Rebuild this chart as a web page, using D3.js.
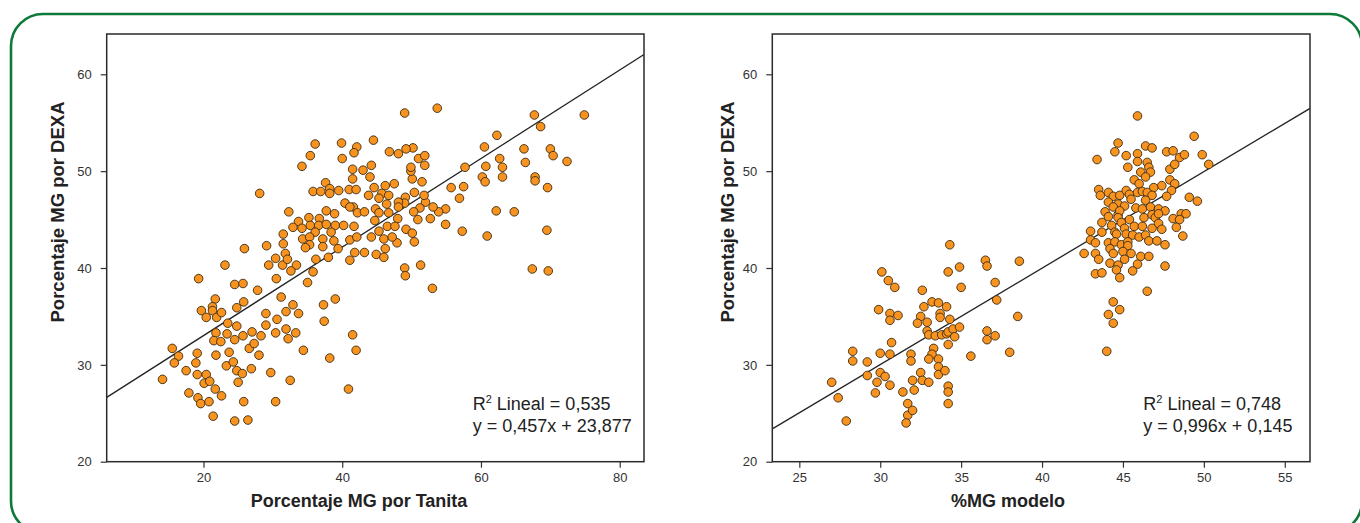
<!DOCTYPE html>
<html><head><meta charset="utf-8">
<script src="https://cdn.jsdelivr.net/npm/d3@7"></script>
<style>
html,body{margin:0;padding:0;background:#fff;}
svg{display:block;font-family:"Liberation Sans",Arial,sans-serif;}
</style></head>
<body>
<svg id="c" width="1360" height="523"></svg>
<script>
// ---------- DATA ----------
const tanita = [36.1,39.9,42.1,41.7,44.5,46.8,35.4,40.0,34.2,41.5,43.0,44.2,41.5,44.0,28.1,37.6,35.8,36.9,38.2,38.2,39.5,41.0,42.0,44.6,46.2,45.7,43.8,45.3,46.7,46.4,40.4,41.6,41.1,42.2,43.2,44.8,45.3,46.7,32.3,37.7,38.9,35.2,36.7,33.7,32.9,34.2,35.4,36.6,37.7,39.0,40.2,41.7,44.7,46.5,36.1,38.4,31.5,34.3,35.3,37.2,38.8,41.1,42.1,44.2,46.0,45.3,31.5,29.1,25.9,35.3,37.2,39.4,46.2,34.7,
23.1,19.3,29.4,30.4,31.4,31.8,32.1,33.4,32.6,30.5,24.5,25.7,27.8,35.0,35.8,36.2,38.0,41.1,41.8,43.2,44.9,46.0,21.7,19.7,21.3,21.3,20.4,21.9,22.6,24.8,25.8,31.2,32.9,31.9,33.7,29.0,30.6,23.5,24.8,29.0,21.8,23.4,24.5,25.7,27.0,28.3,30.4,31.9,33.3,32.2,37.3,39.0,37.4,41.5,42.0,38.2,40.9,34.4,15.5,16.4,15.8,14.1,17.5,19.1,18.9,19.1,20.4,20.1,20.9,21.5,22.5,21.8,23.7,23.3,24.3,24.8,25.6,25.0,26.6,27.3,28.0,26.9,29.7,32.5,21.7,22.6,17.9,19.2,19.6,20.8,25.8,30.4,21.4,24.5,26.4,
49.0,53.7,67.7,74.9,68.6,62.3,60.5,66.2,70.0,70.4,72.4,66.4,62.7,63.1,60.7,57.7,60.2,60.6,63.1,67.8,67.8,69.6,55.7,57.5,56.9,62.2,64.8,69.5,57.3,60.9,54.9,54.9,53.9,53.1,52.7,52.0,51.8,51.2,50.9,50.3,50.4,51.5,50.1,49.9,49.9,51.0,51.9,51.9,50.2,49.2,48.1,47.5,49.1,49.0,48.1,48.1,48.0,49.2,47.6,50.1,50.4,47.9,47.2,
49.0,49.1,51.3,53.0,67.4,69.7];
const dexaL = [52.8,52.9,52.5,51.9,53.2,52.0,51.6,51.3,50.5,50.2,50.1,50.6,49.2,49.4,47.7,48.8,47.9,47.9,48.2,47.7,48.0,48.1,48.1,48.3,48.5,47.7,47.5,47.2,47.5,46.6,46.7,46.3,46.3,45.7,45.8,46.1,45.7,45.7,45.8,45.9,45.6,45.2,45.1,44.8,44.2,44.1,44.4,44.4,44.5,44.4,44.4,44.3,44.9,44.3,43.7,43.7,43.5,43.0,43.2,43.0,42.8,42.9,43.2,43.2,43.0,43.8,42.5,42.3,42.0,42.4,42.2,42.0,42.0,42.1,
40.3,38.9,40.3,41.0,40.3,41.5,40.9,40.3,39.7,38.9,38.3,38.4,37.7,38.5,39.6,40.9,41.1,40.8,41.6,41.6,41.4,41.1,36.8,35.6,36.0,35.6,34.9,34.9,35.4,35.9,36.5,37.0,36.2,35.5,35.3,35.3,34.7,34.3,34.0,34.1,33.3,33.2,32.6,33.0,33.4,33.0,33.3,33.7,33.3,32.7,36.2,36.8,34.5,33.1,31.5,30.7,27.5,31.5,31.7,30.9,30.2,28.5,29.4,31.2,30.2,29.0,29.0,28.1,28.3,32.5,32.4,31.0,31.3,29.9,30.3,29.4,29.1,28.2,31.7,32.2,31.0,29.6,29.2,28.4,27.5,26.8,27.1,26.6,26.0,26.2,26.2,26.2,24.7,24.2,24.3,
56.0,56.5,55.8,55.8,54.6,53.7,52.5,52.3,52.3,51.6,51.0,50.9,51.3,50.4,50.5,50.4,49.4,48.9,49.4,49.4,49.0,48.3,48.3,48.4,47.2,45.9,45.8,43.9,43.8,43.3,44.5,46.1,45.8,46.3,45.1,46.8,47.5,46.2,45.0,45.8,47.8,48.9,49.2,50.0,50.4,51.3,51.6,50.6,52.4,52.3,51.8,48.7,47.3,46.7,46.8,46.3,45.1,44.0,44.3,43.6,42.7,42.6,43.2,
40.0,39.2,40.3,37.9,39.9,39.7];

const modelo = [34.3,30.1,30.5,30.9,34.2,34.9,35.0,36.5,36.6,38.6,37.1,37.2,32.6,33.2,33.6,32.7,34.1,29.9,30.6,31.1,30.6,32.5,33.7,33.7,34.3,32.3,32.9,38.5,32.9,33.0,33.4,33.8,34.1,34.2,34.5,34.9,34.6,34.2,36.6,36.6,37.1,35.6,38.0,30.7,28.3,28.3,30.0,30.6,29.2,31.9,31.9,33.3,33.2,33.0,33.6,33.6,33.6,34.0,32.5,32.6,33.0,29.2,30.0,30.3,29.8,30.6,32.0,32.1,31.4,29.7,27.0,27.4,27.9,31.7,31.7,32.0,31.6,34.2,34.2,34.2,
45.9,49.4,44.7,46.4,46.8,44.5,45.2,45.9,47.7,48.1,48.5,48.8,49.9,50.3,43.4,45.9,46.5,46.6,45.3,46.1,46.7,47.9,48.2,46.4,45.7,46.0,47.9,48.2,47.4,46.9,48.0,43.5,43.6,44.1,44.4,44.8,45.2,45.4,45.9,46.2,46.5,46.8,47.7,45.5,46.4,49.1,49.6,44.1,44.7,45.1,45.8,46.2,46.7,47.2,47.6,44.4,43.9,44.1,44.7,44.8,44.7,45.4,46.3,46.8,47.0,47.2,48.1,48.6,48.9,48.5,43.7,44.3,44.9,45.1,45.7,46.2,46.8,47.2,47.4,48.3,43.0,43.7,44.5,44.6,45.2,45.6,46.0,46.4,48.7,43.0,43.3,44.1,44.5,44.9,45.3,45.3,46.6,47.1,47.6,44.2,44.4,45.0,45.5,46.1,46.6,42.6,43.3,43.5,45.1,44.2,44.7,44.6,45.9,45.6,47.6,43.3,43.7,44.8,46.5,44.4,44.8,44.1,44.4,44.0];
const dexaR = [42.4,39.6,38.7,38.0,39.6,40.1,38.0,40.8,40.2,40.7,38.5,36.7,37.7,36.5,36.4,36.0,36.0,35.7,35.3,35.1,34.6,35.0,35.3,34.9,34.7,34.3,34.4,35.0,33.5,33.1,33.0,33.1,33.2,33.4,33.7,33.9,32.9,32.1,33.5,32.6,33.0,30.9,31.3,32.3,31.4,30.4,31.2,31.1,30.3,31.1,30.4,31.7,31.1,30.6,30.6,29.8,29.0,29.4,29.2,28.4,28.2,28.9,29.2,28.8,28.2,27.9,28.4,27.4,27.2,27.1,28.2,26.6,24.2,26.0,24.8,25.3,24.0,27.8,27.2,26.0,
55.7,53.6,52.9,52.6,52.4,52.0,51.6,51.8,52.0,52.1,51.4,51.7,51.7,50.7,51.2,51.0,50.9,50.4,50.4,49.9,49.9,50.2,50.7,49.4,49.1,48.7,49.1,48.7,48.5,48.3,48.0,48.1,47.5,47.8,47.4,47.5,48.0,47.6,47.8,47.9,47.8,47.5,47.4,47.1,47.0,47.3,46.9,46.8,46.6,46.4,46.2,46.1,46.3,46.1,45.9,46.3,45.8,45.3,45.5,45.9,45.2,45.0,45.2,45.5,45.2,45.6,45.1,45.6,45.6,45.0,44.7,44.4,44.7,44.1,44.3,44.3,44.1,44.6,44.0,44.2,43.8,43.7,43.7,43.5,43.5,43.4,43.2,43.4,43.3,42.9,42.6,42.6,42.7,42.4,42.7,42.3,42.8,42.8,42.4,42.0,41.5,41.7,41.5,41.2,41.2,41.5,41.5,40.9,40.9,40.5,40.3,39.8,40.4,39.7,40.2,39.4,39.5,39.0,37.6,36.5,35.7,35.2,34.3,31.4];

// regression coefficients [slope, intercept]
const fitLeft = [0.457, 23.877];
const fitRight = [0.996, 0.145];
const annLeft = ["R", "2", " Lineal = 0,535", "y = 0,457x + 23,877"];
const annRight = ["R", "2", " Lineal = 0,748", "y = 0,996x + 0,145"];

const yTicks = [20,30,40,50,60];
const xTicksLeft = [20,40,60,80];
const xTicksRight = [25,30,35,40,45,50,55];
const yTitle = "Porcentaje MG por DEXA";
const xTitleLeft = "Porcentaje MG por Tanita";
const xTitleRight = "%MG modelo";

// ---------- DRAW ----------
const svg = d3.select("#c");
svg.append("rect").attr("x",11).attr("y",14).attr("width",1351).attr("height",519)
  .attr("rx",32).attr("ry",32).attr("fill","none").attr("stroke","#0e7a3a").attr("stroke-width",2.6);

function panel(o){
  const g = svg.append("g");
  const x = d3.scaleLinear().domain(o.xd).range([o.x0,o.x1]);
  const y = d3.scaleLinear().domain([20,64.16]).range([461.7,34]);
  const clipId = "clip"+o.id;
  g.append("clipPath").attr("id",clipId).append("rect")
    .attr("x",o.x0).attr("y",34).attr("width",o.x1-o.x0).attr("height",461.7-34);

  // axes
  const ax = g.append("g").attr("transform",`translate(0,461.7)`)
    .call(d3.axisBottom(x).tickValues(o.xt).tickSize(6).tickSizeOuter(0).tickPadding(5));
  const ay = g.append("g").attr("transform",`translate(${o.x0},0)`)
    .call(d3.axisLeft(y).tickValues(yTicks).tickSize(6).tickSizeOuter(0).tickPadding(9));
  [ax,ay].forEach(a=>{
    a.select(".domain").remove();
    a.selectAll(".tick line").attr("stroke","#333").attr("stroke-width",1.2);
    a.selectAll(".tick text").attr("fill","#333").style("font-size","13px")
      .style("font-family","'Liberation Sans',Arial,sans-serif");
  });

  // regression line
  const xd = x.domain();
  const lineData = xd.map(v=>[v, o.fit[0]*v + o.fit[1]]);
  g.append("path").attr("clip-path",`url(#${clipId})`)
    .attr("d", d3.line().x(d=>x(d[0])).y(d=>y(d[1]))(lineData))
    .attr("stroke","#222").attr("stroke-width",1.3).attr("fill","none");

  // points
  g.append("g").attr("clip-path",`url(#${clipId})`).selectAll("circle")
    .data(o.xs.map((v,i)=>[v,o.ys[i]])).join("circle")
    .attr("cx",d=>x(d[0])).attr("cy",d=>y(d[1])).attr("r",4.3)
    .attr("fill","#F7931E").attr("stroke","#3b2a12").attr("stroke-width",0.9);

  // frame
  g.append("rect").attr("x",o.x0).attr("y",34).attr("width",o.x1-o.x0).attr("height",461.7-34)
    .attr("fill","none").attr("stroke","#2a2a2a").attr("stroke-width",1.5);

  // annotation
  const t = g.append("text").attr("x",o.ax).attr("y",409.8).attr("fill","#222").style("font-size","18px");
  t.append("tspan").text(o.ann[0]);
  t.append("tspan").text(o.ann[1]).style("font-size","11px").attr("dy",-7);
  t.append("tspan").text(o.ann[2]).attr("dy",7);
  g.append("text").attr("x",o.ax).attr("y",431.5).attr("fill","#222").style("font-size","18px").text(o.ann[3]);

  // titles
  g.append("text").attr("x",o.xtc).attr("y",507).attr("text-anchor","middle")
    .attr("fill","#222").style("font-size","18px").style("font-weight","bold").text(o.xtitle);
  g.append("text").attr("transform",`translate(${o.ytx},212) rotate(-90)`).attr("text-anchor","middle")
    .attr("dominant-baseline","central")
    .attr("fill","#222").style("font-size","18.5px").style("font-weight","bold").text(yTitle);
}

panel({id:"L", x0:106.7, x1:644, xd:[6.05,83.5], xt:xTicksLeft, fit:fitLeft, xs:tanita, ys:dexaL,
  ann:annLeft, ax:472.7, xtitle:xTitleLeft, xtc:359, ytx:57});
panel({id:"R", x0:772.3, x1:1310, xd:[23.33,56.56], xt:xTicksRight, fit:fitRight, xs:modelo, ys:dexaR,
  ann:annRight, ax:1143.3, xtitle:xTitleRight, xtc:1008, ytx:727});
</script>
</body></html>
